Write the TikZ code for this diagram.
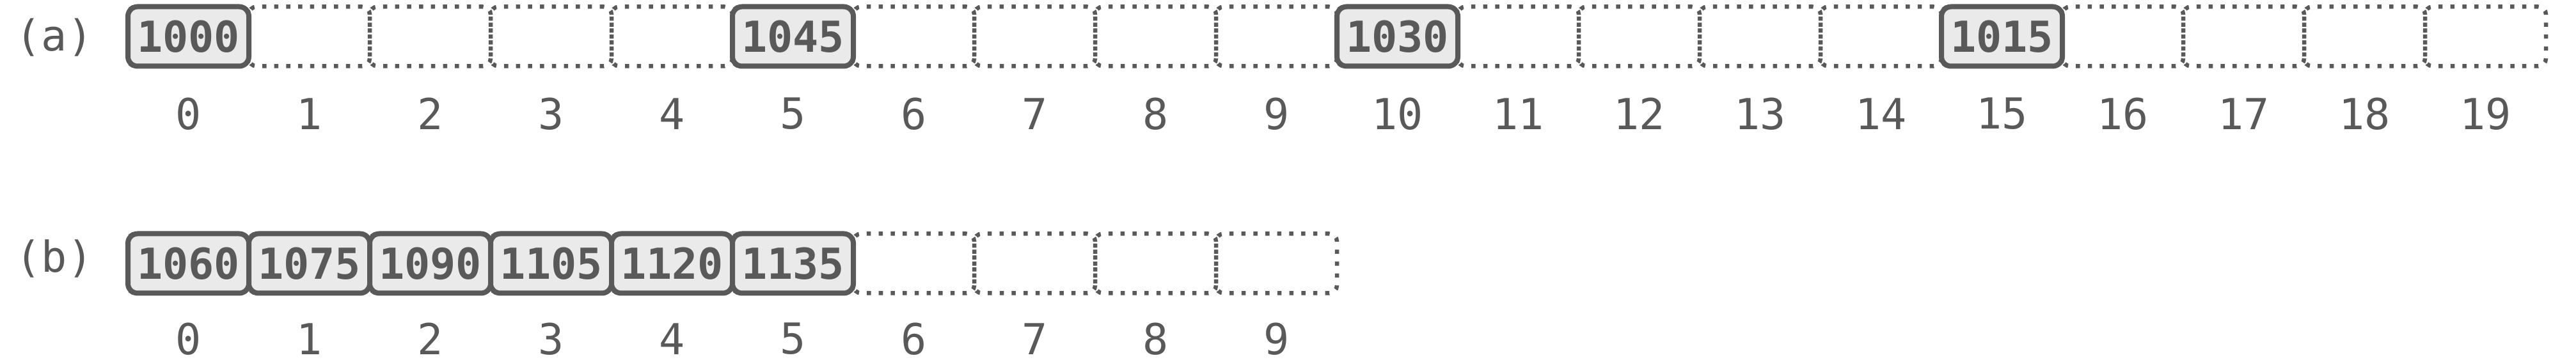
\documentclass[tikz,border=0pt]{standalone}
\usepackage{fontspec}
\setmainfont{DejaVu Sans Mono}
\definecolor{linegray}{HTML}{595959}
\definecolor{boxfill}{HTML}{EAEAEA}
\tikzset{
  freecell/.style={draw=linegray, line width=0.065cm, dash pattern=on 0.065cm off 0.122cm,
    rounded corners=0.12cm, minimum width=1.89cm, minimum height=0.93cm, inner sep=0pt},
  usedcell/.style={draw=linegray, line width=0.08cm, fill=boxfill, rounded corners=0.15cm,
    minimum width=1.89cm, minimum height=0.93cm, inner sep=0pt, font=\fontsize{19}{22}\selectfont\bfseries}
}
\begin{document}
\begin{tikzpicture}[font=\fontsize{19}{22}\selectfont, text=linegray]
\useasboundingbox (0,0) rectangle (40.27,5.63);
\node (la) at (0.85,5.04) {(a)};
\node (lb) at (0.85,1.58) {(b)};

% empty slots and indices
\foreach \i in {0,...,19} {
  \node[freecell] (a\i) at (2.945+1.89*\i,5.06) {};
  \node (ia\i) at (2.945+1.89*\i,3.85) {\i};
}
\foreach \i in {0,...,9} {
  \node[freecell] (b\i) at (2.945+1.89*\i,1.51) {};
  \node (ib\i) at (2.945+1.89*\i,0.33) {\i};
}

% (a) filled slots
\node[usedcell] (va0) at (a0) {1000};
\node[usedcell] (va5) at (a5) {1045};
\node[usedcell] (va10) at (a10) {1030};
\node[usedcell] (va15) at (a15) {1015};

% (b) filled slots
\node[usedcell] (vb0) at (b0) {1060};
\node[usedcell] (vb1) at (b1) {1075};
\node[usedcell] (vb2) at (b2) {1090};
\node[usedcell] (vb3) at (b3) {1105};
\node[usedcell] (vb4) at (b4) {1120};
\node[usedcell] (vb5) at (b5) {1135};
\end{tikzpicture}
\end{document}
